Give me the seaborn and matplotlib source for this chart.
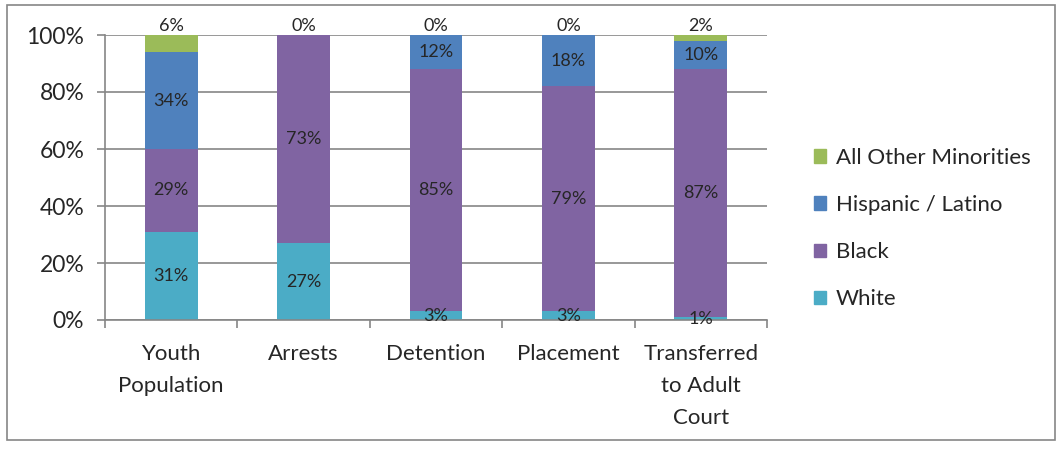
import numpy as np
import pandas as pd
import matplotlib
matplotlib.use("Agg")
import matplotlib.pyplot as plt
import matplotlib.patches as patches
from matplotlib.ticker import PercentFormatter, FixedLocator
import seaborn as sns

categories = ["Youth\nPopulation", "Arrests", "Detention", "Placement", "Transferred\nto Adult\nCourt"]
white = [31, 27, 3, 3, 1]
black = [29, 73, 85, 79, 87]
hispanic = [34, 0, 12, 18, 10]
other = [6, 0, 0, 0, 2]

series = ["White", "Black", "Hispanic / Latino", "All Other Minorities"]
values = [white, black, hispanic, other]
colors = ["#4BACC6", "#8064A2", "#4F81BD", "#9BBB59"]

sns.set_style("white")
plt.rcParams["font.family"] = ["Lato", "DejaVu Sans"]

df = pd.DataFrame({"cat": categories})
for name, v in zip(series, values):
    df[name] = v

fig = plt.figure(figsize=(10.61, 4.51), dpi=100)
ax = fig.add_axes([105 / 1061, 1 - 320 / 451, (767 - 105) / 1061, (320 - 35) / 451])

cum = np.cumsum(np.array(values), axis=0)
# draw tallest (cumulative) first so lower segments sit on top
for i in range(len(series) - 1, -1, -1):
    sns.barplot(x=df["cat"], y=cum[i], color=colors[i], width=0.4, ax=ax,
                saturation=1, zorder=2, linewidth=0, legend=False)

ax.set_xlim(-0.5, 4.5)
ax.set_ylim(0, 100)
ax.yaxis.set_major_locator(FixedLocator([0, 20, 40, 60, 80, 100]))
ax.yaxis.set_major_formatter(PercentFormatter(decimals=0))
ax.grid(axis="y", color="#868686", lw=1.2, zorder=0)
ax.set_axisbelow(True)
ax.set_xlabel("")
ax.set_ylabel("")

for s in ["top", "right"]:
    ax.spines[s].set_visible(False)
for s in ["left", "bottom"]:
    ax.spines[s].set_color("#868686")
    ax.spines[s].set_linewidth(1.2)

ax.tick_params(axis="y", length=6, color="#868686", width=1.2, labelsize=16.5, pad=9, direction="out", left=True)
ax.tick_params(axis="x", which="major", length=0, labelsize=16, pad=17)
ax.set_xticks(np.arange(-0.5, 5, 1), minor=True)
ax.tick_params(axis="x", which="minor", length=6, color="#868686", width=1.2, direction="out", bottom=True)
for t in ax.get_xticklabels():
    t.set_linespacing(1.75)
    t.set_verticalalignment("top")

# data labels
bottoms = np.vstack([np.zeros(len(categories)), cum[:-1]])
for i, v in enumerate(values):
    for j, val in enumerate(v):
        if i == len(values) - 1:
            ax.text(j, 100.3, f"{val}%", ha="center", va="bottom", fontsize=13, zorder=5, clip_on=False)
        elif val > 0:
            ax.text(j, bottoms[i][j] + val / 2, f"{val}%", ha="center", va="center", fontsize=13, zorder=5)

handles = [patches.Patch(color=c) for c in colors[::-1]]
fig.legend(handles, series[::-1], loc="upper left", bbox_to_anchor=(805 / 1061, 1 - 139 / 451),
           frameon=False, fontsize=16, handlelength=0.55, handleheight=0.55, handletextpad=0.45,
           labelspacing=1.22, borderaxespad=0)

fig.patches.append(patches.Rectangle((7 / 1061, 1 - 440 / 451), 1048 / 1061, 435 / 451,
                                     transform=fig.transFigure, fill=False, edgecolor="#868686", lw=1.2))

fig.savefig("out.png", dpi=100)
